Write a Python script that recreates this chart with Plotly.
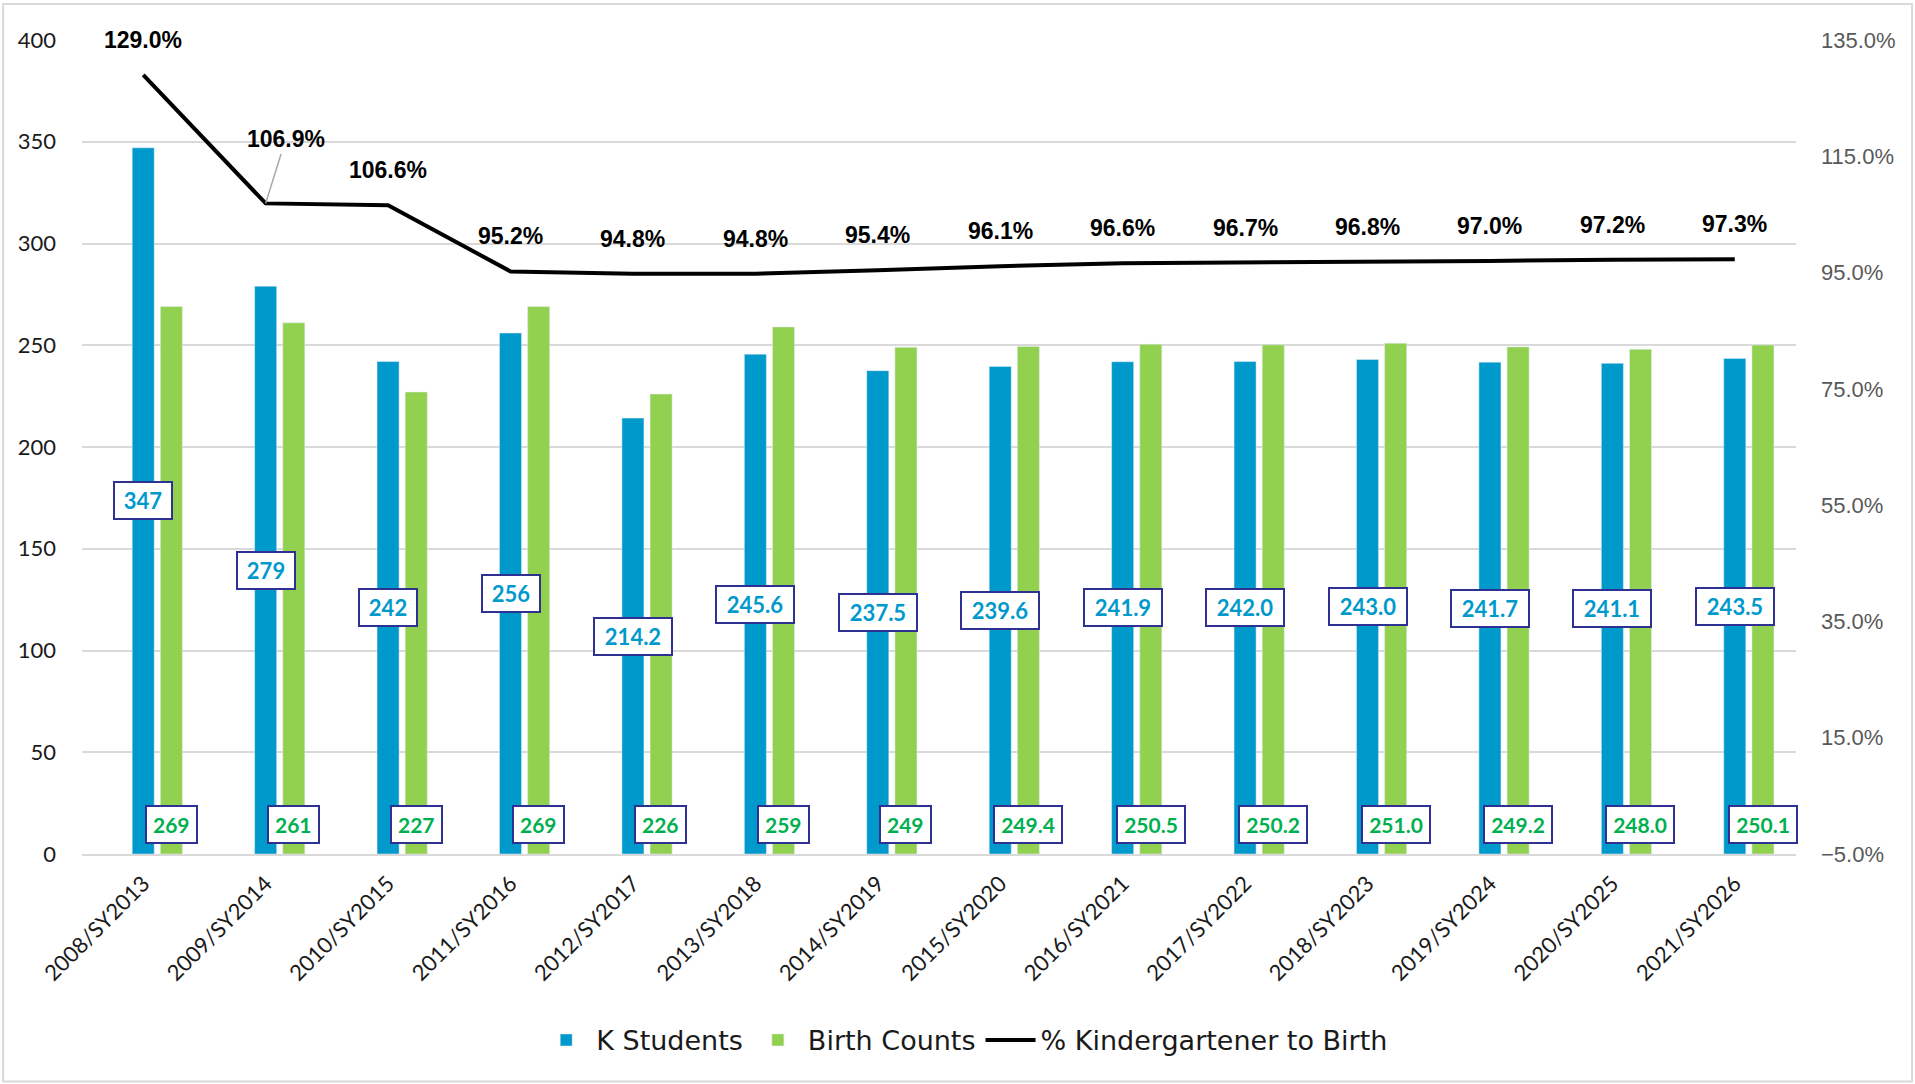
import plotly.graph_objects as go

years = ["2008/SY2013", "2009/SY2014", "2010/SY2015", "2011/SY2016", "2012/SY2017",
         "2013/SY2018", "2014/SY2019", "2015/SY2020", "2016/SY2021", "2017/SY2022",
         "2018/SY2023", "2019/SY2024", "2020/SY2025", "2021/SY2026"]
k_students = [347, 279, 242, 256, 214.2, 245.6, 237.5, 239.6, 241.9, 242.0, 243.0, 241.7, 241.1, 243.5]
birth_counts = [269, 261, 227, 269, 226, 259, 249, 249.4, 250.5, 250.2, 251.0, 249.2, 248.0, 250.1]
pct_k_to_birth = [129.0, 106.9, 106.6, 95.2, 94.8, 94.8, 95.4, 96.1, 96.6, 96.7, 96.8, 97.0, 97.2, 97.3]

BLUE = "#0099cc"
GREEN = "#92d050"
GREEN_TXT = "#00b050"
NAVY = "#2e3192"
BODY_FONT = "Lato, sans-serif"
WIDE_FONT = "DejaVu Sans, sans-serif"
ARIAL = "Liberation Sans, Arial, sans-serif"

fig = go.Figure()

fig.add_trace(go.Bar(
    x=years, y=k_students, name="K Students",
    marker_color=BLUE, width=0.18, offset=-0.09,
))
fig.add_trace(go.Bar(
    x=years, y=birth_counts, name="Birth Counts",
    marker_color=GREEN, width=0.18, offset=0.14,
))
fig.add_trace(go.Scatter(
    x=years, y=pct_k_to_birth, name="% Kindergartener to Birth",
    mode="lines", line=dict(color="black", width=4), yaxis="y2",
))

annotations = []


def box_width(txt, digit_px):
    n_dig = sum(c.isdigit() for c in txt)
    return n_dig * digit_px + (6 if "." in txt else 0) + 10


# boxed labels: K students in the middle of the bar, births at the base
for yr, k, b in zip(years, k_students, birth_counts):
    kt, bt = str(k), str(b)
    annotations.append(dict(
        x=yr, y=k / 2, xref="x", yref="y", text=f"<b>{kt}</b>", showarrow=False,
        font=dict(family=BODY_FONT, size=22, color=BLUE, weight="bold"),
        bgcolor="white", bordercolor=NAVY, borderwidth=2, borderpad=2,
        width=box_width(kt, 14), height=31, yanchor="middle",
    ))
    annotations.append(dict(
        x=yr, y=0, xref="x", yref="y", text=f"<b>{bt}</b>", showarrow=False,
        font=dict(family=BODY_FONT, size=21, color=GREEN_TXT, weight="bold"),
        bgcolor="white", bordercolor=NAVY, borderwidth=2, borderpad=2,
        width=box_width(bt, 11.5), height=31, yanchor="bottom", yshift=10, xshift=28,
    ))

for i, (yr, p) in enumerate(zip(years, pct_k_to_birth)):
    txt = f"<b>{p:.1f}%</b>"
    if i == 1:
        annotations.append(dict(
            x=yr, y=p, xref="x", yref="y2", text=txt, showarrow=True,
            arrowhead=0, arrowwidth=1.5, arrowcolor="#a6a6a6", ax=20, ay=-64,
            font=dict(family=ARIAL, size=23, color="black"),
        ))
    else:
        annotations.append(dict(
            x=yr, y=p, xref="x", yref="y2", text=txt, showarrow=False,
            yshift=35, font=dict(family=ARIAL, size=23, color="black"),
        ))

fig.update_layout(
    width=1915, height=1084, autosize=False,
    margin=dict(l=82, r=119, t=40, b=230),
    paper_bgcolor="white", plot_bgcolor="white",
    barmode="overlay",
    font=dict(family=BODY_FONT, color="#1a1a1a"),
    xaxis=dict(
        type="category", range=[-0.5, 13.5], tickangle=-45,
        tickfont=dict(family=BODY_FONT, size=22, color="#1a1a1a"),
        showgrid=False, showline=True, linecolor="#d9d9d9", linewidth=2,
        ticks="", ticklabelstandoff=6,
    ),
    yaxis=dict(
        range=[0, 400], dtick=50, showgrid=True, gridcolor="#d9d9d9", gridwidth=2,
        zeroline=False, showline=False, ticks="",
        tickfont=dict(family=BODY_FONT, size=22, color="#1a1a1a"),
        ticklabelstandoff=25,
    ),
    yaxis2=dict(
        overlaying="y", side="right", range=[-5, 135], tick0=-5, dtick=20,
        tickformat=".1f", ticksuffix="%", showgrid=False, zeroline=False,
        showline=False, ticks="",
        tickfont=dict(family=ARIAL, size=22, color="#595959"),
        ticklabelstandoff=24,
    ),
    legend=dict(
        orientation="h", x=0.515, xanchor="center", y=-0.229, yanchor="middle",
        font=dict(family=WIDE_FONT, size=27, color="#1a1a1a"),
        itemwidth=50, traceorder="normal",
    ),
    annotations=annotations,
    shapes=[dict(
        type="rect", xref="paper", yref="paper",
        x0=-0.046, x1=1.0677, y0=-0.2795, y1=1.0443,
        line=dict(color="#d9d9d9", width=2), layer="below",
    )],
)

fig.write_html("out.html", config={"displayModeBar": False},
               post_script="document.body.style.margin='0';")
